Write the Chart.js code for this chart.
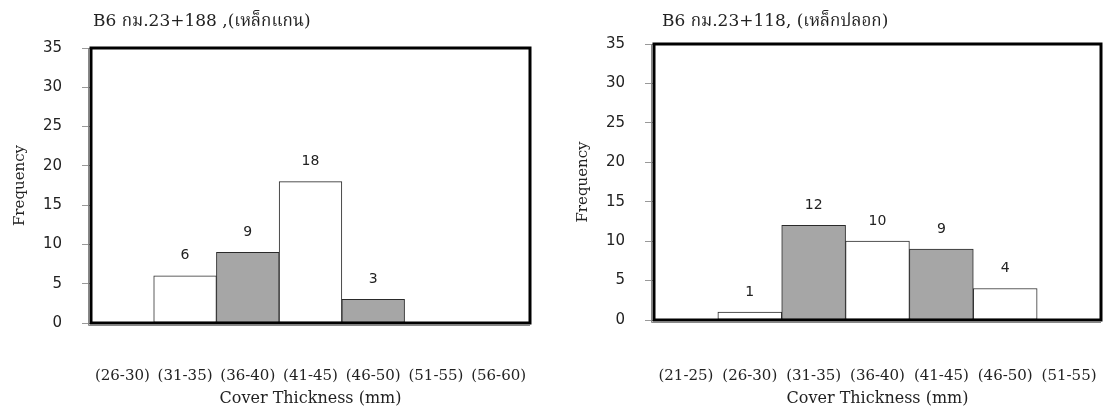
<!DOCTYPE html>
<html>
<head>
<meta charset="utf-8">
<script src="https://cdn.jsdelivr.net/npm/chart.js@4/dist/chart.umd.min.js"></script>
<style>
  body { margin: 0; background: #fff; }
  .panel { position: absolute; top: 0; }
</style>
</head>
<body>
<div class="panel" style="left:0"><canvas id="chartLeft" width="552" height="414"></canvas></div>
<div class="panel" style="left:552px"><canvas id="chartRight" width="553" height="414"></canvas></div>
<script>
// data
const leftTitle = "B6 กม.23+188 ,(เหล็กแกน)";
const leftCategories = ["(26-30)", "(31-35)", "(36-40)", "(41-45)", "(46-50)", "(51-55)", "(56-60)"];
const leftCounts = [0, 6, 9, 18, 3, 0, 0];

const rightTitle = "B6 กม.23+118, (เหล็กปลอก)";
const rightCategories = ["(21-25)", "(26-30)", "(31-35)", "(36-40)", "(41-45)", "(46-50)", "(51-55)"];
const rightCounts = [0, 1, 12, 10, 9, 4, 0];

const frequencyTicks = [0, 5, 10, 15, 20, 25, 30, 35];

const serif = "'DejaVu Serif', serif";
const sans = "'DejaVu Sans', sans-serif";

// heading at top-left of plot
const cornerTitle = {
    id: 'cornerTitle',
    afterDraw(chart, args, opts) {
        const ctx = chart.ctx;
        ctx.save();
        ctx.font = "17px 'DejaVu Serif', 'Noto Serif Thai', 'Noto Sans Thai', serif";
        ctx.fillStyle = '#222';
        ctx.textBaseline = 'middle';
        ctx.textAlign = 'left';
        ctx.fillText(opts.text, chart.chartArea.left + opts.dx, opts.y);
        ctx.restore();
    }
};

// thick frame round the plot
const plotFrame = {
    id: 'plotFrame',
    afterDatasetsDraw(chart) {
        const { ctx, chartArea: a } = chart;
        ctx.save();
        ctx.strokeStyle = '#888';
        ctx.lineWidth = 1;
        ctx.beginPath();
        ctx.moveTo(a.left - 2.5, a.top);
        ctx.lineTo(a.left - 2.5, a.bottom + 2.5);
        ctx.lineTo(a.right, a.bottom + 2.5);
        ctx.stroke();
        ctx.strokeStyle = '#000';
        ctx.lineWidth = 3;
        ctx.strokeRect(a.left, a.top, a.right - a.left, a.bottom - a.top);
        ctx.restore();
    }
};

// counts above bars
const barValues = {
    id: 'barValues',
    afterDatasetsDraw(chart) {
        const ctx = chart.ctx;
        const meta = chart.getDatasetMeta(0);
        const values = chart.data.datasets[0].data;
        ctx.save();
        ctx.font = "14px " + sans;
        ctx.fillStyle = '#222';
        ctx.textAlign = 'center';
        ctx.textBaseline = 'middle';
        meta.data.forEach((bar, i) => {
            if (values[i] > 0) {
                ctx.fillText(values[i], bar.x, bar.y - 20);
            }
        });
        ctx.restore();
    }
};

function makeChart(id, title, categories, counts, box) {
    const colors = counts.map((v, i) => i % 2 ? '#ffffff' : '#a6a6a6');
    return new Chart(document.getElementById(id), {
        type: 'bar',
        data: {
            labels: categories,
            datasets: [{
                data: counts,
                backgroundColor: colors,
                borderColor: '#2a2a2a',
                borderWidth: 1,
                borderSkipped: false,
                categoryPercentage: 1,
                barPercentage: 1
            }]
        },
        options: {
            responsive: false,
            animation: false,
            layout: { padding: { top: box.top, right: box.right, left: 0, bottom: 0 } },
            plugins: {
                legend: { display: false },
                tooltip: { enabled: false },
                cornerTitle: { text: title, dx: box.titleDx, y: 22 }
            },
            scales: {
                x: {
                    // long invisible tick marks push the labels down
                    grid: {
                        drawOnChartArea: false,
                        drawTicks: true,
                        tickLength: box.labelPad,
                        color: 'rgba(0,0,0,0)'
                    },
                    border: { display: false },
                    ticks: {
                        padding: 0,
                        maxRotation: 0,
                        autoSkip: false,
                        color: '#222',
                        font: { family: serif, size: 15 }
                    },
                    title: {
                        display: true,
                        text: 'Cover Thickness (mm)',
                        color: '#222',
                        font: { family: serif, size: 16 },
                        padding: { top: 0, bottom: 6 }
                    },
                    afterFit: s => { s.height = box.xHeight; }
                },
                y: {
                    min: frequencyTicks[0],
                    max: frequencyTicks[frequencyTicks.length - 1],
                    ticks: {
                        stepSize: frequencyTicks[1] - frequencyTicks[0],
                        padding: 20,
                        color: '#222',
                        font: { family: sans, size: 15 }
                    },
                    grid: {
                        drawOnChartArea: false,
                        drawTicks: true,
                        tickLength: 9,
                        color: '#999'
                    },
                    border: { display: false },
                    title: {
                        display: true,
                        text: 'Frequency',
                        color: '#222',
                        font: { family: serif, size: 15 },
                        padding: { top: box.yTitlePad, bottom: 0 }
                    },
                    afterFit: s => { s.width = box.yWidth; }
                }
            }
        },
        plugins: [cornerTitle, plotFrame, barValues]
    });
}

makeChart('chartLeft', leftTitle, leftCategories, leftCounts,
    { top: 48, right: 22, yWidth: 91, xHeight: 91, labelPad: 44, yTitlePad: 11, titleDx: 2 });
makeChart('chartRight', rightTitle, rightCategories, rightCounts,
    { top: 44, right: 4, yWidth: 102, xHeight: 94, labelPad: 47, yTitlePad: 22, titleDx: 8 });
</script>
</body>
</html>
